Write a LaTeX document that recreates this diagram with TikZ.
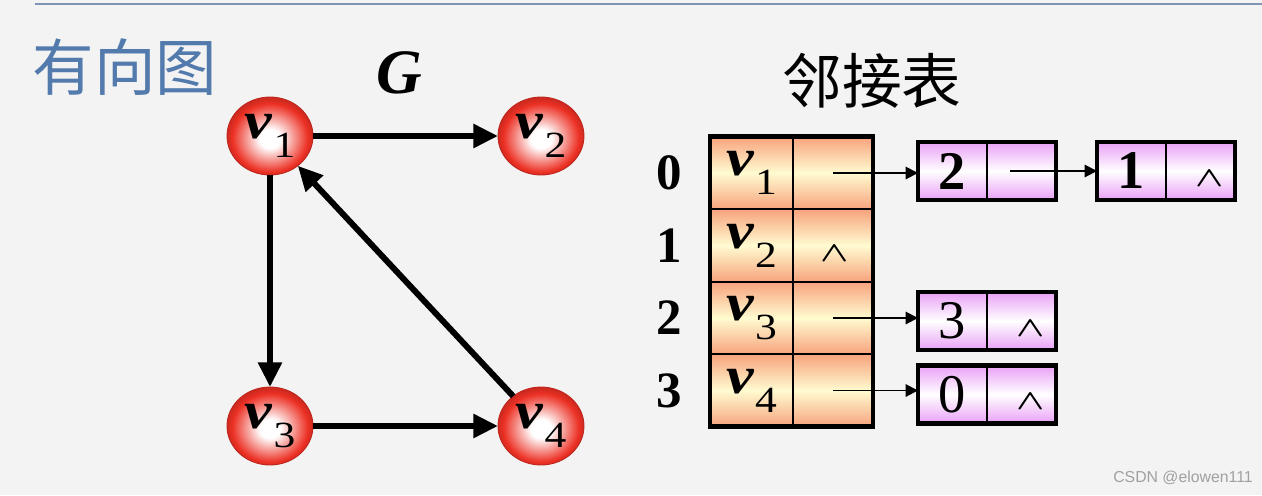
\documentclass[tikz,border=0pt]{standalone}
\usepackage{graphicx}
\usepackage{fontspec}
\setmainfont{Liberation Serif}
\setsansfont{Liberation Sans}
\newfontfamily\cjkfont{Noto Sans CJK SC}
\usepackage{tikz}
\usetikzlibrary{positioning, shapes.geometric, arrows.meta, calc}

\definecolor{bggray}{RGB}{243,243,243}
\definecolor{titleblue}{RGB}{82,122,172}
\definecolor{lineblue}{RGB}{125,148,180}
\definecolor{ballred}{RGB}{236,48,36}
\definecolor{cellsalmon}{RGB}{247,163,125}
\definecolor{cellyellow}{RGB}{255,251,208}
\definecolor{nodeviolet}{RGB}{233,160,246}
\definecolor{markgray}{RGB}{160,160,160}

\pgfdeclareradialshading{vball}{\pgfpoint{0bp}{-2bp}}{color(0bp)=(white); color(6bp)=(white); color(22bp)=(ballred); color(25bp)=(ballred!88!black); color(50bp)=(ballred!88!black)}

% vertex name: bold italic v with upright subscript
\newcommand{\vname}[1]{\scalebox{1.18}[1]{\fontsize{30}{30}\selectfont\bfseries\itshape v\kern0.02em\raisebox{-0.36em}{\fontsize{21}{21}\selectfont\mdseries\upshape #1}}}
% null pointer mark
\newcommand{\nilmark}{\scalebox{2.1}[1.6]{\boldmath$\wedge$}}

\begin{document}
\begin{tikzpicture}[x=0.02cm, y=-0.02cm,
      vtx/.style={ellipse, minimum width=1.72cm, minimum height=1.56cm, inner sep=0pt, outer sep=0pt, shading=vball, draw=ballred!80!black, line width=0.5pt},
      arc/.style={line width=3.4pt, -{Triangle[length=14pt, width=13pt]}},
      vcell/.style={draw, line width=0.9pt, minimum width=1.66cm, minimum height=1.45cm, inner sep=0pt, outer sep=0pt, top color=cellsalmon, bottom color=cellsalmon, middle color=cellyellow},
      pcell/.style={vcell, minimum width=1.6cm},
      dcell/.style={draw, line width=0.9pt, minimum width=1.38cm, minimum height=1.16cm, inner sep=0pt, outer sep=0pt, top color=nodeviolet, bottom color=nodeviolet, middle color=white, font=\fontsize{31}{31}\selectfont},
      rim/.style={line width=2.6pt},
      idx/.style={font=\fontsize{29}{29}\selectfont\bfseries},
      nil/.style={inner sep=0pt},
      ptr/.style={line width=1.1pt, -{Triangle[length=7pt, width=7pt]}}]
  \fill[bggray] (0,0) rectangle (1262,495);
  \useasboundingbox (0,0) rectangle (1262,495);
  \draw[lineblue, line width=1.2pt] (35,4) -- (1262,4);

  % titles
  \node[font=\cjkfont\fontsize{35}{35}\selectfont, text=titleblue] (title) at (125,67) {有向图};
  \node[font=\fontsize{36}{36}\selectfont\bfseries\itshape] (gname) at (399,73) {G};
  \node[font=\cjkfont\fontsize{34}{34}\selectfont] (listname) at (872,81) {邻接表};

  % directed graph
  \node[vtx] (v1) at (270,136) {\vname{1}};
  \node[vtx] (v2) at (541,136) {\vname{2}};
  \node[vtx] (v3) at (270,426) {\vname{3}};
  \node[vtx] (v4) at (541,426) {\vname{4}};
  \draw[arc] (v1) -- (v2);
  \draw[arc] (v1) -- (v3);
  \draw[arc] (v3) -- (v4);
  \draw[arc] (v4) -- (v1);

  % vertex table
  \node[vcell] (c0) at (751.5,173) {\vname{1}};
  \node[pcell, right=0pt of c0] (p0) {};
  \node[vcell] (c1) at (751.5,245.5) {\vname{2}};
  \node[pcell, right=0pt of c1] (p1) {};
  \node[vcell] (c2) at (751.5,318) {\vname{3}};
  \node[pcell, right=0pt of c2] (p2) {};
  \node[vcell] (c3) at (751.5,390.5) {\vname{4}};
  \node[pcell, right=0pt of c3] (p3) {};
  \draw[rim] (c0.north west) rectangle (p3.south east);
  \node[nil] (z1) at ([xshift=0.04cm, yshift=-0.16cm]p1.center) {\nilmark};
  \node[idx] (i0) at (669,173) {0};
  \node[idx] (i1) at (669,245.5) {1};
  \node[idx] (i2) at (669,318) {2};
  \node[idx] (i3) at (669,390.5) {3};

  % edge nodes
  \node[dcell, font=\fontsize{31}{31}\selectfont\bfseries] (d0) at (952.5,171) {2};
  \node[dcell, right=0pt of d0] (n0) {};
  \draw[rim] (d0.north west) rectangle (n0.south east);
  \node[dcell, font=\fontsize{31}{31}\selectfont\bfseries] (d1) at (1131.5,171) {1};
  \node[dcell, right=0pt of d1] (n1) {};
  \draw[rim] (d1.north west) rectangle (n1.south east);
  \node[nil] (z2) at ([xshift=0.18cm, yshift=-0.15cm]n1.center) {\nilmark};
  \node[dcell] (d2) at (952.5,321) {3};
  \node[dcell, right=0pt of d2] (n2) {};
  \draw[rim] (d2.north west) rectangle (n2.south east);
  \node[nil] (z3) at ([xshift=0.18cm, yshift=-0.15cm]n2.center) {\nilmark};
  \node[dcell] (d3) at (952.5,394.5) {0};
  \node[dcell, right=0pt of d3] (n3) {};
  \draw[rim] (d3.north west) rectangle (n3.south east);
  \node[nil] (z4) at ([xshift=0.18cm, yshift=-0.15cm]n3.center) {\nilmark};

  % pointers
  \draw[ptr] (p0.center) -- (p0.center -| d0.west);
  \coordinate (s1) at ([xshift=-0.22cm]n0.center);
  \draw[ptr] (s1) -- (d1.west);
  \draw[ptr] (p2.center) -- (p2.center -| d2.west);
  \draw[ptr] (p3.center) -- (p3.center -| d3.west);

  \node[font=\sffamily\fontsize{9}{9}\selectfont, text=markgray] (mark) at (1183,478) {CSDN @elowen111};
\end{tikzpicture}
\end{document}
